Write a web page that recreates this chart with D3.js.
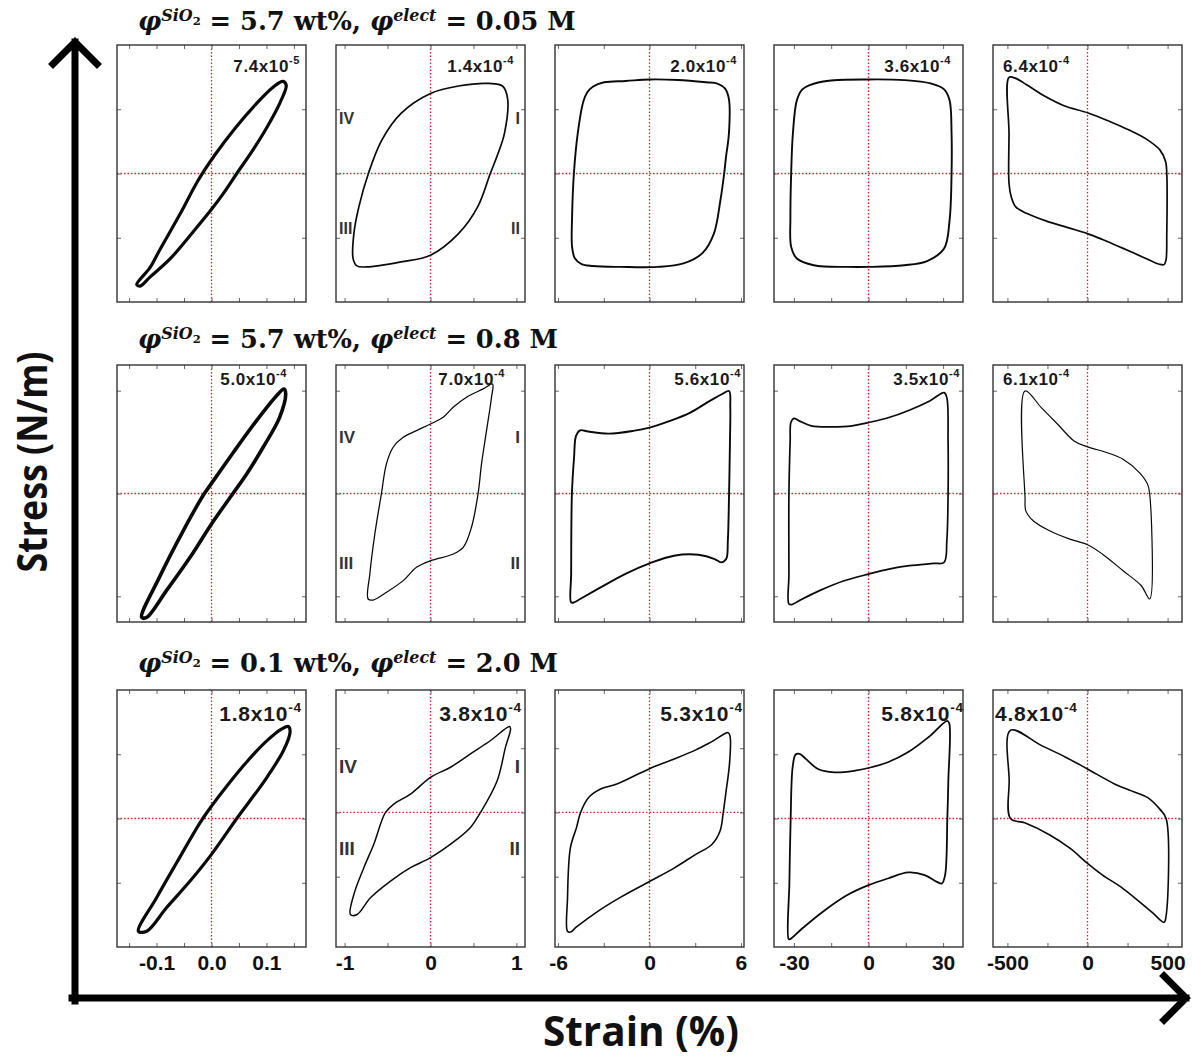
<!DOCTYPE html>
<html>
<head>
<meta charset="utf-8">
<script src="https://cdn.jsdelivr.net/npm/d3@7"></script>
<style>
body { margin: 0; background: #fff; }
svg { display: block; }
</style>
</head>
<body>
<div id="chart"></div>
<script>
/* globals d3 */

// Strain half-range of each column (%) and the tick values
var strainRange = [0.172, 1.1, 6.2, 38, 590];
var strainLabels = [[-0.1, 0, 0.1], [-1, 0, 1], [-6, 0, 6], [-30, 0, 30], [-500, 0, 500]];
var strainMinor = [
    [-0.15, -0.1, -0.05, 0, 0.05, 0.1, 0.15],
    [-1, -0.5, 0, 0.5, 1],
    [-6, -3, 0, 3, 6],
    [-30, -15, 0, 15, 30],
    [-500, -250, 0, 250, 500]
];

// Row conditions
var rowSilica = ['5.7', '5.7', '0.1'];
var rowElect = ['0.05', '0.8', '2.0'];

// Modulus annotation of every panel: [mantissa, exponent]
var moduliRow1 = [['7.4', '-5'], ['1.4', '-4'], ['2.0', '-4'], ['3.6', '-4'], ['6.4', '-4']];
var moduliRow2 = [['5.0', '-4'], ['7.0', '-4'], ['5.6', '-4'], ['3.5', '-4'], ['6.1', '-4']];
var moduliRow3 = [['1.8', '-4'], ['3.8', '-4'], ['5.3', '-4'], ['5.8', '-4'], ['4.8', '-4']];

// Scaled stress range (stress / panel half range) and inner tick values
var stressRangeRow1 = [[-1, 1], [-1, 1], [-1, 1], [-1, 1], [-1, 1]];
var stressRangeRow2 = [[-1, 1], [-1, 1], [-1, 1], [-1, 1], [-1, 1]];
var stressRangeRow3 = [[-1, 1], [-1.047, 0.953], [-1.047, 0.953], [-1, 1], [-1, 1]];
var stressTicks = [[-0.5, 0, 0.5], [-0.8, 0, 0.8], [-0.5, 0, 0.5]];

var quadrants = ['IV', 'I', 'III', 'II'];

// Loops: [strain (%), scaled stress]
var loop11 = [[-0.136, -0.864], [-0.112, -0.733], [-0.094, -0.593], [-0.057, -0.314], [-0.025, -0.058],
    [0.006, 0.144], [0.043, 0.353], [0.079, 0.531], [0.112, 0.671], [0.130, 0.717], [0.136, 0.686],
    [0.125, 0.554], [0.101, 0.360], [0.074, 0.174], [0.046, 0], [0.023, -0.147], [0, -0.279],
    [-0.034, -0.457], [-0.076, -0.667], [-0.112, -0.806], [-0.130, -0.876]];
var loop12 = [[0, 0.623], [0.326, 0.681], [0.682, 0.701], [0.838, 0.681], [0.897, 0.584], [0.861, 0.312],
    [0.772, 0.130], [0.696, 0], [0.549, -0.260], [0.326, -0.468], [0, -0.636], [-0.343, -0.688],
    [-0.745, -0.727], [-0.857, -0.719], [-0.901, -0.662], [-0.892, -0.468], [-0.834, -0.260],
    [-0.723, 0], [-0.567, 0.260], [-0.343, 0.468]];
var loop13 = [[-3.72, 0.675], [-2.98, 0.71], [-1.55, 0.72], [0, 0.732], [1.86, 0.728], [3.72, 0.71],
    [4.46, 0.70], [4.96, 0.66], [5.21, 0.58], [5.21, 0.31], [5.02, 0.13], [4.90, 0], [4.65, -0.21],
    [4.22, -0.47], [3.47, -0.62], [2.23, -0.70], [0.50, -0.727], [-1.86, -0.727], [-3.72, -0.72],
    [-4.46, -0.705], [-4.90, -0.66], [-5.08, -0.57], [-5.08, -0.34], [-4.96, 0], [-4.71, 0.31],
    [-4.34, 0.56], [-4.09, 0.63]];
var loop14 = [[-23.6, 0.688], [-26.6, 0.655], [-28.8, 0.571], [-30.4, 0.312], [-31.1, 0], [-31.4, -0.338],
    [-31.1, -0.571], [-28.8, -0.662], [-22.0, -0.714], [-8.4, -0.727], [0, -0.727], [14.4, -0.714],
    [23.6, -0.681], [30.4, -0.584], [32.6, -0.364], [33.4, 0], [33.4, 0.312], [32.6, 0.571],
    [30.4, 0.655], [25.0, 0.701], [14.4, 0.727], [0, 0.732], [-16.0, 0.722]];
var loop15 = [[-490, 0.748], [-448, 0.740], [-377, 0.688], [-260, 0.597], [-142, 0.525], [0, 0.473],
    [142, 0.403], [260, 0.338], [377, 0.260], [453, 0.182], [488, 0.091], [495, 0], [495, -0.468],
    [490, -0.675], [478, -0.709], [448, -0.706], [354, -0.655], [212, -0.577], [94, -0.514],
    [0, -0.468], [-118, -0.423], [-260, -0.369], [-377, -0.312], [-448, -0.260], [-476, -0.182],
    [-490, -0.078], [-490, 0.312]];

var loop21 = [[-0.127, -0.964], [-0.094, -0.645], [-0.052, -0.294], [-0.015, -0.014], [0, 0.079],
    [0.039, 0.315], [0.082, 0.567], [0.118, 0.759], [0.132, 0.813], [0.135, 0.774], [0.124, 0.593],
    [0.094, 0.360], [0.064, 0.152], [0.039, 0], [0, -0.237], [-0.039, -0.497], [-0.082, -0.756],
    [-0.118, -0.964]];
var loop22 = [[-0.726, -0.821], [-0.706, -0.626], [-0.648, -0.315], [-0.571, 0], [-0.513, 0.230],
    [-0.435, 0.360], [-0.318, 0.437], [-0.163, 0.489], [0, 0.541], [0.147, 0.593], [0.264, 0.671],
    [0.419, 0.749], [0.613, 0.814], [0.722, 0.852], [0.710, 0.749], [0.652, 0.489], [0.594, 0.230],
    [0.554, 0], [0.477, -0.263], [0.381, -0.419], [0.264, -0.471], [0, -0.523], [-0.163, -0.574],
    [-0.318, -0.678], [-0.513, -0.769], [-0.668, -0.829]];
var loop23 = [[-5.14, -0.847], [-5.14, -0.627], [-5.09, 0], [-4.95, 0.280], [-4.82, 0.448], [-4.55, 0.492],
    [-4.02, 0.482], [-2.68, 0.466], [-1.07, 0.487], [0, 0.513], [1.34, 0.565], [2.68, 0.630],
    [4.02, 0.725], [4.82, 0.777], [5.22, 0.798], [5.30, 0.668], [5.28, 0.409], [5.22, 0],
    [5.14, -0.368], [5.03, -0.510], [4.69, -0.536], [4.28, -0.510], [3.21, -0.477], [1.61, -0.484],
    [0, -0.544], [-1.61, -0.627], [-3.21, -0.731], [-4.55, -0.821], [-4.95, -0.847]];
var loop24 = [[-32.0, -0.860], [-32.0, -0.627], [-32.0, 0], [-31.5, 0.409], [-31.2, 0.552], [-30.0, 0.585],
    [-27.9, 0.565], [-23.0, 0.526], [-14.8, 0.518], [-6.6, 0.526], [0, 0.552], [8.2, 0.591],
    [16.4, 0.648], [24.6, 0.720], [30.4, 0.785], [31.5, 0.746], [32.0, 0.409], [32.0, 0],
    [31.5, -0.368], [30.4, -0.536], [26.3, -0.544], [16.4, -0.562], [8.2, -0.588], [0, -0.627],
    [-9.8, -0.679], [-19.7, -0.756], [-27.9, -0.834], [-30.9, -0.865]];
var loop25 = [[-390, 0.798], [-288, 0.668], [-186, 0.539], [-84, 0.409], [0, 0.363], [120, 0.319],
    [222, 0.267], [324, 0.163], [375, 0.073], [388, 0], [388, -0.821], [336, -0.718], [222, -0.601],
    [94, -0.472], [0, -0.399], [-110, -0.355], [-237, -0.290], [-339, -0.212], [-385, -0.135],
    [-390, -0.031]];

var loop31 = [[-0.133, -0.878], [-0.100, -0.617], [-0.063, -0.341], [-0.021, -0.034], [0, 0.096],
    [0.028, 0.253], [0.064, 0.440], [0.100, 0.602], [0.128, 0.698], [0.140, 0.716], [0.143, 0.672],
    [0.131, 0.529], [0.100, 0.315], [0.070, 0.138], [0.046, 0], [0, -0.279], [-0.039, -0.487],
    [-0.082, -0.695], [-0.118, -0.878]];
var loop32 = [[-0.932, -0.794], [-0.892, -0.638], [-0.776, -0.430], [-0.660, -0.247], [-0.524, 0],
    [-0.427, 0.065], [-0.233, 0.143], [0, 0.273], [0.233, 0.352], [0.465, 0.456], [0.699, 0.560],
    [0.920, 0.669], [0.932, 0.651], [0.873, 0.508], [0.776, 0.247], [0.582, 0], [0.465, -0.117],
    [0.310, -0.208], [0, -0.352], [-0.233, -0.430], [-0.465, -0.534], [-0.699, -0.664], [-0.854, -0.794]];
var loop33 = [[-5.38, -0.925], [-5.38, -0.669], [-5.19, -0.275], [-4.79, -0.118], [-4.52, 0], [-3.98, 0.118],
    [-3.17, 0.184], [-2.10, 0.223], [0, 0.341], [1.40, 0.406], [3.01, 0.485], [4.09, 0.551],
    [5.16, 0.621], [5.29, 0.590], [5.25, 0.380], [5.03, 0.170], [4.84, 0], [4.63, -0.144],
    [4.09, -0.249], [3.01, -0.328], [1.61, -0.433], [0, -0.537], [-1.83, -0.655], [-3.44, -0.773],
    [-4.79, -0.891], [-5.19, -0.931]];
var loop34 = [[-32.1, -0.939], [-31.8, -0.493], [-31.3, 0], [-30.5, 0.399], [-29.3, 0.498], [-27.7, 0.503],
    [-25.2, 0.464], [-20.3, 0.385], [-13.7, 0.359], [-5.4, 0.372], [0, 0.393], [7.8, 0.438],
    [16.0, 0.517], [24.2, 0.634], [31.7, 0.760], [32.5, 0.739], [32.1, 0.294], [31.7, 0],
    [30.8, -0.440], [29.5, -0.506], [27.5, -0.493], [22.6, -0.440], [16.0, -0.420], [7.8, -0.467],
    [0, -0.519], [-8.7, -0.598], [-18.6, -0.729], [-26.9, -0.860], [-31.5, -0.939]];
var loop35 = [[-481, 0.687], [-289, 0.569], [-136, 0.477], [0, 0.385], [172, 0.267], [274, 0.215],
    [376, 0.163], [453, 0.071], [491, 0], [491, -0.755], [478, -0.808], [402, -0.729], [222, -0.545],
    [94, -0.440], [0, -0.349], [-110, -0.231], [-238, -0.126], [-392, -0.034], [-481, 0], [-489, 0.294]];

var loops = [
    [loop11, loop12, loop13, loop14, loop15],
    [loop21, loop22, loop23, loop24, loop25],
    [loop31, loop32, loop33, loop34, loop35]
];
var moduli = [moduliRow1, moduliRow2, moduliRow3];
var stressRange = [stressRangeRow1, stressRangeRow2, stressRangeRow3];

// Layout
var W = 1192, H = 1057;
var colLeft = [117, 336, 555, 774, 993], panelW = 189;
var rowTop = [45, 365, 690], panelH = 257;
var titleBase = [30, 348, 672];
var loopWidth = [[3.2, 1.7, 1.9, 1.9, 1.7], [3.6, 1.3, 1.9, 1.7, 1.2], [3.2, 1.5, 1.6, 1.8, 1.6]];
var modFont = [17, 17, 21];
var modBase = [27, 20, 31];
var modDx = [[-6, -11, -7, -12, 10], [-19, -20, -3, -3, 10], [-4, -3, -1, 1, 2]];
var quadFont = [16, 17, 19];
var quadBase = [[79, 189], [78, 204], [83, 165]];
var sans = '"Liberation Sans", Arial, sans-serif';

var svg = d3.select('#chart').append('svg')
    .attr('width', W)
    .attr('height', H);

svg.append('rect').attr('width', W).attr('height', H).attr('fill', '#fff');

var line = d3.line().curve(d3.curveCatmullRomClosed.alpha(0.5));

function fmt(c) {
    var f = c === 0 ? d3.format('.1f') : d3.format('d');
    return function(v) { return f(v).replace('\u2212', '-'); };
}

rowTop.forEach(function(top, r) {
    colLeft.forEach(function(left, c) {
        var x = d3.scaleLinear().domain([-strainRange[c], strainRange[c]]).range([left, left + panelW]);
        var y = d3.scaleLinear().domain(stressRange[r][c]).range([top + panelH, top]);
        var g = svg.append('g');

        // red zero lines
        g.append('line')
            .attr('x1', left).attr('x2', left + panelW)
            .attr('y1', y(0)).attr('y2', y(0))
            .attr('stroke', '#e3202a').attr('stroke-width', 1.3)
            .attr('stroke-dasharray', '1.5,2');
        g.append('line')
            .attr('x1', x(0)).attr('x2', x(0))
            .attr('y1', top).attr('y2', top + panelH)
            .attr('stroke', '#e3202a').attr('stroke-width', 1.3)
            .attr('stroke-dasharray', '1.5,2');

        // inner ticks on all four sides
        var axes = [
            [d3.axisBottom(x).tickValues(strainMinor[c]), 'translate(0,' + (top + panelH) + ')'],
            [d3.axisTop(x).tickValues(strainMinor[c]), 'translate(0,' + top + ')'],
            [d3.axisLeft(y).tickValues(stressTicks[r]), 'translate(' + left + ',0)'],
            [d3.axisRight(y).tickValues(stressTicks[r]), 'translate(' + (left + panelW) + ',0)']
        ];
        axes.forEach(function(a) {
            var ax = g.append('g')
                .attr('transform', a[1])
                .call(a[0].tickSize(-4).tickFormat(''));
            ax.select('.domain').remove();
            ax.selectAll('line').attr('stroke', '#666').attr('stroke-width', 1);
        });

        // frame
        g.append('rect')
            .attr('x', left).attr('y', top)
            .attr('width', panelW).attr('height', panelH)
            .attr('fill', 'none').attr('stroke', '#333').attr('stroke-width', 1.4);

        // loop
        g.append('path')
            .datum(loops[r][c])
            .attr('d', line.x(function(d) { return x(d[0]); }).y(function(d) { return y(d[1]); }))
            .attr('fill', 'none')
            .attr('stroke', '#0a0a0a')
            .attr('stroke-width', loopWidth[r][c])
            .attr('stroke-linejoin', 'round');

        // modulus label
        var m = moduli[r][c];
        var mt = g.append('text')
            .attr('x', c === 4 ? left + modDx[r][c] : left + panelW + modDx[r][c])
            .attr('y', top + modBase[r])
            .attr('text-anchor', c === 4 ? 'start' : 'end')
            .style('font-family', sans)
            .attr('font-size', modFont[r])
            .attr('font-weight', 'bold')
            .attr('letter-spacing', r === 2 ? 0.8 : 0.6)
            .attr('fill', '#1a1a1a');
        mt.append('tspan').text(m[0] + 'x10');
        mt.append('tspan').attr('dy', -modFont[r] * 0.45).attr('font-size', modFont[r] * 0.65).text(m[1]);

        // quadrant numerals in the second column
        if (c === 1) {
            quadrants.forEach(function(q, i) {
                var isLeft = (i % 2 === 0);
                g.append('text')
                    .attr('x', isLeft ? left + 3 : left + panelW - 5)
                    .attr('y', top + quadBase[r][i < 2 ? 0 : 1])
                    .attr('text-anchor', isLeft ? 'start' : 'end')
                    .style('font-family', sans)
                    .attr('font-size', quadFont[r])
                    .attr('font-weight', 'bold')
                    .attr('fill', '#333')
                    .text(q);
            });
        }

        // strain tick labels under the last row
        if (r === 2) {
            var lab = g.append('g')
                .attr('transform', 'translate(0,' + (top + panelH) + ')')
                .call(d3.axisBottom(x).tickValues(strainLabels[c]).tickSize(0).tickPadding(8).tickFormat(fmt(c)));
            lab.select('.domain').remove();
            lab.selectAll('text')
                .style('font-family', sans)
                .attr('font-size', 21)
                .attr('font-weight', 'bold')
                .attr('fill', '#111');
        }
    });

    // row title
    var t = svg.append('text')
        .attr('class', 'title')
        .attr('x', 138)
        .attr('y', titleBase[r])
        .style('font-family', '"DejaVu Serif", "Liberation Serif", serif')
        .attr('font-weight', 'bold')
        .attr('font-size', 22)
        .attr('fill', '#111');
    t.append('tspan').attr('font-style', 'italic').text('\u03c6');
    t.append('tspan').attr('font-style', 'italic').attr('font-size', '0.62em').attr('dy', -9).text('SiO');
    t.append('tspan').attr('font-size', '0.45em').attr('dy', 4).text('2');
    t.append('tspan').attr('dy', 5).text(' = ' + rowSilica[r] + ' wt%, ');
    t.append('tspan').attr('font-style', 'italic').text('\u03c6');
    t.append('tspan').attr('font-style', 'italic').attr('font-size', '0.62em').attr('dy', -9).text('elect');
    t.append('tspan').attr('dy', 9).text(' = ' + rowElect[r] + ' M');
});

// fit the titles to the width they take in the figure
var t2 = svg.selectAll('text.title').nodes()[1];
var scale = 420 / t2.getComputedTextLength();
svg.selectAll('text.title').attr('font-size', 22 * scale);

// big axis arrows
svg.append('path')
    .attr('d', 'M75,1001 V42 M53,64 L75,42 L97,64')
    .attr('fill', 'none').attr('stroke', '#000').attr('stroke-width', 7)
    .attr('stroke-linecap', 'square').attr('stroke-linejoin', 'miter');
svg.append('path')
    .attr('d', 'M72,998 H1186 M1164,976 L1186,998 L1164,1020')
    .attr('fill', 'none').attr('stroke', '#000').attr('stroke-width', 7)
    .attr('stroke-linecap', 'square').attr('stroke-linejoin', 'miter');

svg.append('text')
    .attr('x', 641)
    .attr('y', 1046)
    .attr('text-anchor', 'middle')
    .style('font-family', '"Open Sans", sans-serif')
    .attr('font-weight', 'bold')
    .attr('font-size', 42)
    .attr('textLength', 196)
    .attr('lengthAdjust', 'spacingAndGlyphs')
    .attr('fill', '#111')
    .text('Strain (%)');

svg.append('text')
    .attr('transform', 'translate(47,462) rotate(-90)')
    .attr('text-anchor', 'middle')
    .style('font-family', '"Open Sans", sans-serif')
    .attr('font-weight', 'bold')
    .attr('font-size', 42)
    .attr('textLength', 221)
    .attr('lengthAdjust', 'spacingAndGlyphs')
    .attr('fill', '#111')
    .text('Stress (N/m)');
</script>
</body>
</html>
